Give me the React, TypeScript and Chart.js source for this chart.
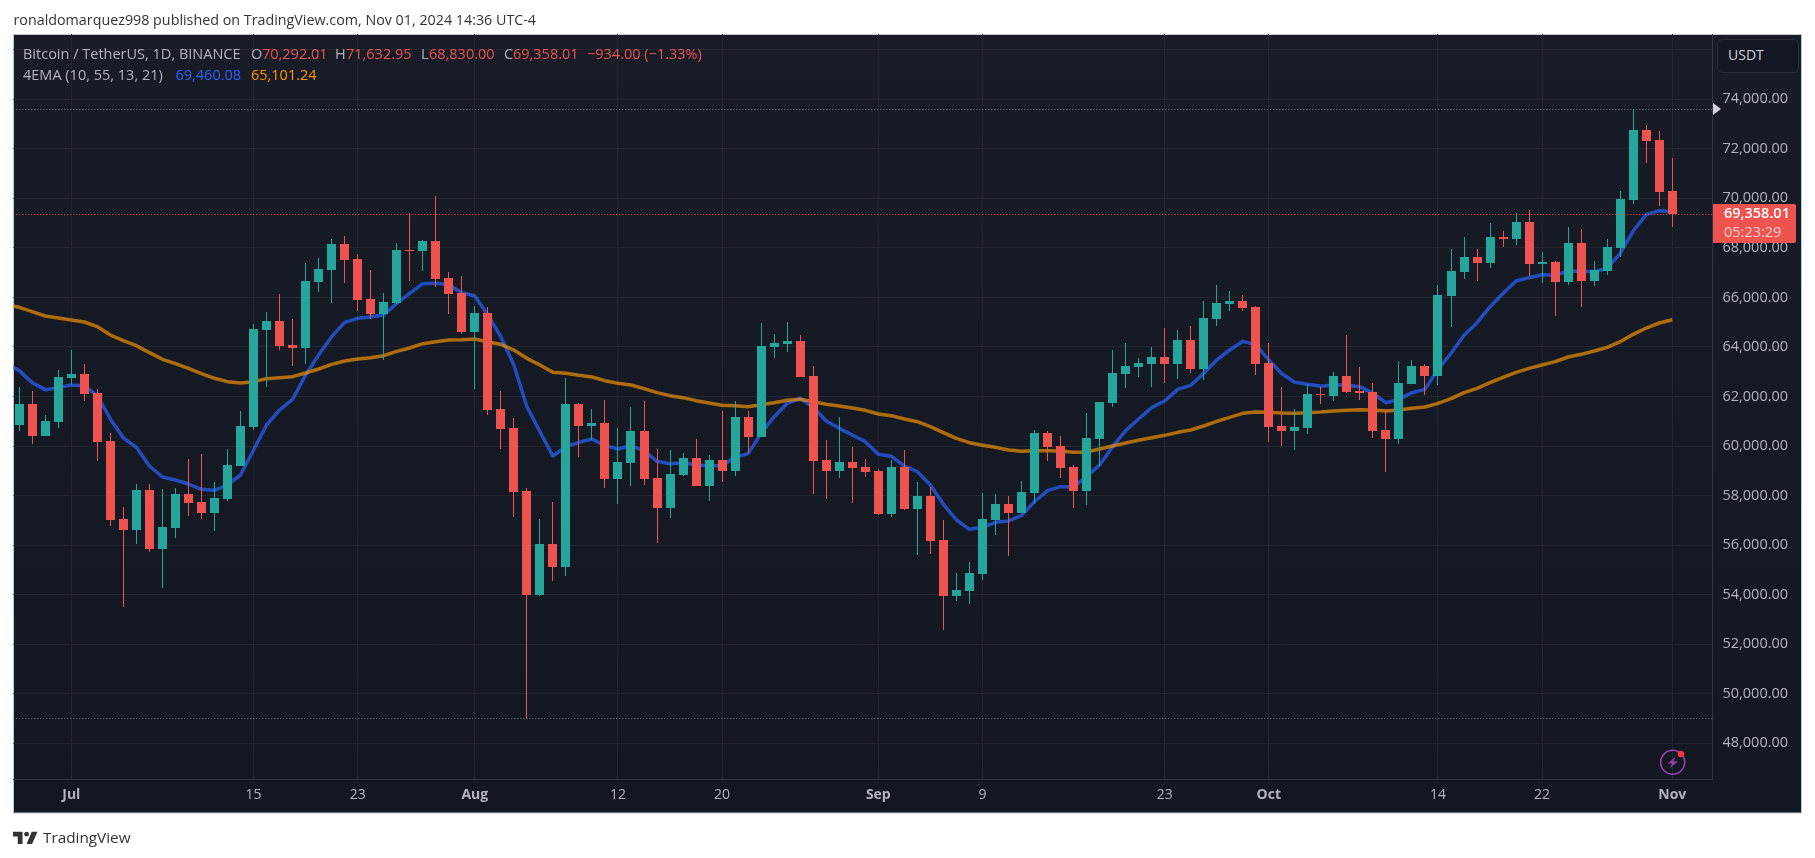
import React, { useEffect, useRef } from "react";
import { Chart, registerables } from "chart.js";

Chart.register(...registerables);

// Days counted from 1 July 2024; the first candle is 27 June.
const firstCandleDay = -4;
const openPrices = [
  60850,61698,60406,60972,62748,62910,62142,60204,57055,56611,58226,55844,56692,58065,57742,57297,57863,59195,
  60769,64686,65049,64080,63959,66624,67108,68158,67552,65937,
  65332,65776,67916,67875,68279,66785,66180,64605,65372,61496,
  60729,58186,53987,56046,55117,61698,60810,60931,58670,59316,
  60608,58710,57499,58832,59518,58387,59437,58993,61173,60366,
  64000,64121,64242,62829,59438,58994,59357,59155,58994,57257,
  59155,57459,57984,56208,53947,54149,54835,57015,57661,57298,
  58105,60528,60003,59155,58186,60285,61738,62909,63192,63313,
  63595,63313,64282,63111,65130,65735,65856,65614,63353,60809,
  60608,60729,62102,62021,62828,62223,62182,60648,60285,62505,
  63232,62828,66058,67027,67633,67390,68440,68359,69046,67350,
  67431,66623,68198,66664,67067,67996,69934,72760,72356,70292.01,
];
const highPrices = [
  62385,62223,61254,63071,63879,63313,62304,60527,57540,58468,58468,58266,58307,59478,59680,58549,59881,61416,
  64928,65412,66139,65130,67391,67593,68360,68481,67754,67108,
  66180,68198,69409,68319,70096,67027,66866,65655,65614,62223,
  61133,58307,57055,57742,62748,61739,61496,61860,60729,61577,
  61819,59881,59841,59720,60285,59639,61416,61819,61416,64968,
  64524,65009,64484,63233,60245,61174,59963,59478,59074,59438,
  59841,58549,58348,57015,54875,55319,58105,58065,57984,58590,
  60649,60608,60407,59236,61335,61779,63878,64161,63555,63999,
  64766,64686,64847,65856,66502,66260,66099,65640,64161,62384,
  61496,62505,62384,62990,64484,63192,62546,61455,63434,63474,
  63313,66502,67955,68440,67955,69005,68682,69409,69530,67834,
  67471,68844,68763,67471,68359,70297,73608,72962,72720,71632.95,
];
const lowPrices = [
  60608,60083,60406,60729,62465,61819,59397,56773,53502,56046,55723,54270,56288,57176,57055,56571,57782,59195,
  60648,62384,63878,63232,63313,66220,65776,66583,65453,65130,
  63474,65735,66664,67068,66422,65332,64524,62304,61254,59881,
  57136,49007,53946,54552,54754,59558,60245,58307,57661,58387,
  58428,56086,57095,58791,58387,57782,58549,58791,59720,60366,
  63555,63798,62789,58065,57863,58711,57702,58751,57217,57136,
  57419,55602,55643,52574,53745,53624,54593,56410,55562,57298,
  57661,59397,58711,57500,57621,59195,61577,62344,62788,62384,
  62546,62707,62949,62667,64847,65453,65453,62869,60164,60002,
  59841,60487,61698,61819,62142,61859,60325,58952,60083,62505,
  62061,62465,64806,66744,66664,67188,68036,68117,66865,66583,
  65251,66502,65614,66462,66906,67633,69772,71428,69692,68830,
];
const closePrices = [
  61698,60406,61012,62788,62910,62102,60164,57015,56611,58226,55844,56732,58065,57701,57297,57903,59235,60810,
  64726,65049,64040,63972,66664,67148,68158,67512,65897,65332,
  65816,67916,67875,68279,66745,66139,64605,65372,61456,60689,
  58145,53987,56046,55117,61698,60810,60931,58670,59356,60608,
  58670,57499,58872,59518,58387,59437,58993,61173,60366,64040,
  64161,64242,62789,59397,58994,59357,59115,58953,57257,59155,
  57459,57984,56167,53947,54189,54875,57056,57661,57298,58146,
  60528,59963,59115,58186,60326,61779,62949,63232,63353,63595,
  63313,64282,63111,65170,65776,65856,65574,63313,60769,60608,
  60769,62102,62061,62828,62182,62142,60608,60285,62545,63232,
  62828,66098,67067,67633,67390,68440,68359,69046,67350,67431,
  66623,68198,66664,67108,68036,69974,72760,72316,70257,69358.01,
];
// EMA series start one day before the first visible candle.
const emaFirstDay = -5;
const emaFast = [
  63340,
  63044,62560,62277,62358,62465,62438,62035,61093,60326,59949,59195,58751,58630,58468,58253,58213,58428,58832,
  59841,60850,61456,61886,62869,63676,64416,64995,65157,65211,
  65291,65762,66166,66556,66570,66516,66193,66058,65291,64416,
  63273,61590,60581,59599,59975,60150,60285,60016,59881,60016,
  59814,59383,59289,59330,59235,59208,59208,59545,59693,60514,
  61187,61725,61927,61564,61012,60716,60447,60178,59666,59586,
  59195,58967,58428,57648,57015,56638,56719,56921,56975,57190,
  57755,58200,58361,58348,58765,59235,59975,60621,61092,61550,
  61819,62290,62451,62936,63474,63878,64228,64093,63474,62922,
  62573,62492,62411,62478,62451,62398,62128,61751,61886,62155,
  62290,63097,63743,64470,64981,65627,66166,66664,66798,66919,
  66892,67067,67054,67040,67175,67781,68682,69342,69503,69460.08,
];
const emaSlow = [
  65709,
  65601,65426,65251,65171,65090,65009,64821,64484,64255,64053,63771,63502,63327,63138,62923,62735,62600,62546,
  62600,62721,62761,62802,62950,63111,63299,63434,63515,63569,
  63649,63824,63959,64134,64215,64282,64295,64322,64201,64107,
  63878,63542,63273,62977,62936,62856,62788,62640,62532,62465,
  62317,62156,62035,61954,61833,61738,61644,61631,61590,61671,
  61752,61846,61887,61793,61685,61618,61537,61443,61295,61228,
  61093,60985,60783,60541,60312,60137,60030,59949,59841,59787,
  59814,59814,59801,59747,59761,59881,60002,60123,60231,60338,
  60433,60554,60648,60810,60998,61160,61321,61375,61361,61335,
  61321,61348,61375,61415,61442,61469,61455,61415,61455,61523,
  61577,61724,61913,62155,62330,62559,62774,62976,63138,63272,
  63407,63595,63703,63837,63985,64214,64510,64766,64968,65101.24,
];
const tickDays = [0, 14, 22, 31, 42, 50, 62, 70, 84, 92, 105, 113, 123];
const tickLabels = ["Jul", "15", "23", "Aug", "12", "20", "Sep", "9", "23", "Oct", "14", "22", "Nov"];
const monthLabels = ["Jul", "Aug", "Sep", "Oct", "Nov"];
const priceTicks = [48000, 50000, 52000, 54000, 56000, 58000, 60000, 62000, 64000, 66000, 68000, 70000, 72000, 74000, 76000];
const visibleHigh = 73600;
const visibleLow = 49007;
const lastPrice = 69358.01;
const hiddenPriceTick = 76000;

const FONT = '"Open Sans", sans-serif';
const UP = "#26a69a";
const DOWN = "#ef5350";
const TEXT = "#b2b5be";
const xMin = -4.456;
const xMax = 126.09;
const yMin = 46538;
const yMax = 76636;

const snapPlugin = {
  id: "snap",
  afterDatasetsUpdate(chart: any) {
    chart.data.datasets.forEach((ds: any, i: number) => {
      const meta = chart.getDatasetMeta(i);
      if (ds.snap === "bar") {
        meta.data.forEach((el: any) => {
          el.x = Math.floor(el.x) + 0.5;
          const a = Math.round(el.y);
          let b = Math.round(el.base);
          if (a === b) b = a + 1;
          el.y = a;
          el.base = b;
          el.height = b - a;
        });
      } else if (ds.snap === "line") {
        meta.data.forEach((el: any) => {
          el.y = Math.floor(el.y) + 0.5;
        });
      }
    });
  },
};

const panelPlugin = {
  id: "panel",
  beforeDraw(chart: any) {
    const c = chart.ctx;
    const g = c.createLinearGradient(0, 34, 0, 813);
    g.addColorStop(0, "#181c27");
    g.addColorStop(1, "#131722");
    c.save();
    c.fillStyle = g;
    c.fillRect(13, 34, 1788, 779);
    c.strokeStyle = "#c3c6cd";
    c.lineWidth = 1;
    c.strokeRect(13.5, 34.5, 1788, 778.5);
    c.restore();
  },
};

const T = ({ x, y, color = TEXT, size = 14.5, weight = 400, family = FONT, children }: any) => (
  <span
    style={{
      position: "absolute",
      left: x,
      top: y - 10,
      height: 20,
      lineHeight: "20px",
      fontFamily: family,
      fontSize: size,
      fontWeight: weight,
      color,
      whiteSpace: "nowrap",
    }}
  >
    {children}
  </span>
);

export default function App() {
  const ref = useRef<HTMLCanvasElement>(null);
  useEffect(() => {
    document.body.style.margin = "0";
    const days = openPrices.map((_, i) => firstCandleDay + i);
    const colors = openPrices.map((o, i) => (closePrices[i] >= o ? UP : DOWN));
    const ema = (arr: number[]) => arr.map((y, i) => ({ x: emaFirstDay + i, y }));
    const hline = (y: number) => [
      { x: xMin, y },
      { x: xMax, y },
    ];
    const chart = new Chart(ref.current as HTMLCanvasElement, {
      type: "bar",
      data: {
        datasets: [
          { type: "line", label: "High", data: hline(visibleHigh), borderColor: "#7d808a", borderWidth: 1, borderDash: [1, 2], pointRadius: 0, order: 5, snap: "line" },
          { type: "line", label: "Low", data: hline(visibleLow), borderColor: "#7d808a", borderWidth: 1, borderDash: [1, 2], pointRadius: 0, order: 5, snap: "line" },
          { type: "line", label: "EMA 10", data: ema(emaFast), borderColor: "rgba(41,98,255,0.7)", borderWidth: 3.5, pointRadius: 0, tension: 0, borderJoinStyle: "round", order: 4 },
          { type: "line", label: "EMA 55", data: ema(emaSlow), borderColor: "rgba(255,152,0,0.66)", borderWidth: 3.5, pointRadius: 0, tension: 0, borderJoinStyle: "round", order: 3 },
          { type: "bar", label: "Wick", data: days.map((x, i) => ({ x, y: [lowPrices[i], highPrices[i]] })), backgroundColor: colors, barThickness: 1, grouped: false, inflateAmount: 0, order: 2, snap: "bar" },
          { type: "bar", label: "Body", data: days.map((x, i) => ({ x, y: [openPrices[i], closePrices[i]] })), backgroundColor: colors, barThickness: 9, grouped: false, inflateAmount: 0, order: 1, snap: "bar" },
          { type: "line", label: "Last", data: hline(lastPrice), borderColor: DOWN, borderWidth: 1, borderDash: [1, 2], pointRadius: 0, order: 0, snap: "line" },
        ] as any,
      },
      options: {
        animation: false,
        responsive: false,
        devicePixelRatio: 1,
        layout: { padding: { left: 13.3, right: 13.3, top: 34, bottom: 45 } },
        plugins: { legend: { display: false }, tooltip: { enabled: false } },
        scales: {
          x: {
            type: "linear",
            min: xMin,
            max: xMax,
            offset: false,
            afterFit: (s: any) => { s.height = 33.5; },
            afterBuildTicks: (s: any) => { s.ticks = tickDays.map((value) => ({ value })); },
            grid: { color: "#23262f", drawTicks: false, offset: false },
            border: { color: "#333742" },
            ticks: {
              autoSkip: false,
              maxRotation: 0,
              padding: 7,
              color: TEXT,
              callback: (_: any, i: number) => tickLabels[i],
              font: (ctx: any) => ({ family: FONT, size: 14, weight: monthLabels.includes(ctx.tick?.label) ? "bold" : "normal" }),
            },
          },
          y: {
            type: "linear",
            position: "right",
            min: yMin,
            max: yMax,
            afterFit: (s: any) => { s.width = 89.2; },
            afterBuildTicks: (s: any) => { s.ticks = priceTicks.map((value) => ({ value })); },
            grid: { color: "#23262f", drawTicks: false },
            border: { color: "#333742" },
            ticks: {
              autoSkip: false,
              padding: 10,
              color: TEXT,
              font: { family: FONT, size: 14.5 },
              callback: (v: any) => (v === hiddenPriceTick ? "" : Number(v).toLocaleString("en-US", { minimumFractionDigits: 2, maximumFractionDigits: 2 })),
            },
          },
        },
      } as any,
      plugins: [snapPlugin, panelPlugin],
    });
    return () => chart.destroy();
  }, []);

  return (
    <div style={{ position: "absolute", left: 0, top: 0, width: 1815, height: 858, overflow: "hidden", background: "#fff" }}>
      <canvas ref={ref} width={1815} height={858} style={{ position: "absolute", left: 0, top: 0, width: 1815, height: 858 }} />
      <T x={13.5} y={20} color="#333" size={14.3}>ronaldomarquez998 published on TradingView.com, Nov 01, 2024 14:36 UTC-4</T>
      <T x={23} y={53.5}>Bitcoin / TetherUS, 1D, BINANCE</T>
      <T x={251} y={53.5}>O</T>
      <T x={262} y={53.5} color={DOWN}>70,292.01</T>
      <T x={335} y={53.5}>H</T>
      <T x={346} y={53.5} color={DOWN}>71,632.95</T>
      <T x={421} y={53.5}>L</T>
      <T x={429} y={53.5} color={DOWN}>68,830.00</T>
      <T x={504} y={53.5}>C</T>
      <T x={513} y={53.5} color={DOWN}>69,358.01</T>
      <T x={587} y={53.5} color={DOWN}>−934.00 (−1.33%)</T>
      <T x={23} y={75}>4EMA (10, 55, 13, 21)</T>
      <T x={175.5} y={75} color="#2962ff">69,460.08</T>
      <T x={251} y={75} color="#ff9800">65,101.24</T>

      <div style={{ position: "absolute", left: 1716.5, top: 38.5, width: 80, height: 32, border: "1px solid #2a2e39", borderRadius: 6, background: "#131722" }} />
      <T x={1728} y={54.5} color="#d1d4dc" size={14}>USDT</T>

      <div style={{ position: "absolute", left: 1713, top: 204, width: 83, height: 39, background: DOWN, borderRadius: "0 2px 2px 0" }} />
      <T x={1724} y={213} color="#fff" weight={600}>69,358.01</T>
      <T x={1724} y={232} color="#fbcfcd">05:23:29</T>

      <svg style={{ position: "absolute", left: 0, top: 0, pointerEvents: "none" }} width={1815} height={858}>
        <polygon points="1713,103 1721,109 1713,115" fill="#d1d4dc" />
        <circle cx={1672.7} cy={762.3} r={12} fill="none" stroke="#9c3fb0" strokeWidth={1.6} />
        <path d="M1676 756.5 L1667.5 763.5 L1672.3 763.5 L1669.5 768.5 L1678 761.5 L1673.2 761.5 Z" fill="#9c3fb0" />
        <circle cx={1681} cy={754} r={3.2} fill="#f23645" />
        <g transform="translate(13 827) scale(0.68)" fill="#333">
          <path d="M14 25H7V14H0V7h14v18zM28 25h-8l7.5-18H36l-8 18z" />
          <circle cx={20} cy={10.5} r={3.5} />
        </g>
      </svg>
      <T x={43} y={837} color="#333" size={15.3}>TradingView</T>
    </div>
  );
}
